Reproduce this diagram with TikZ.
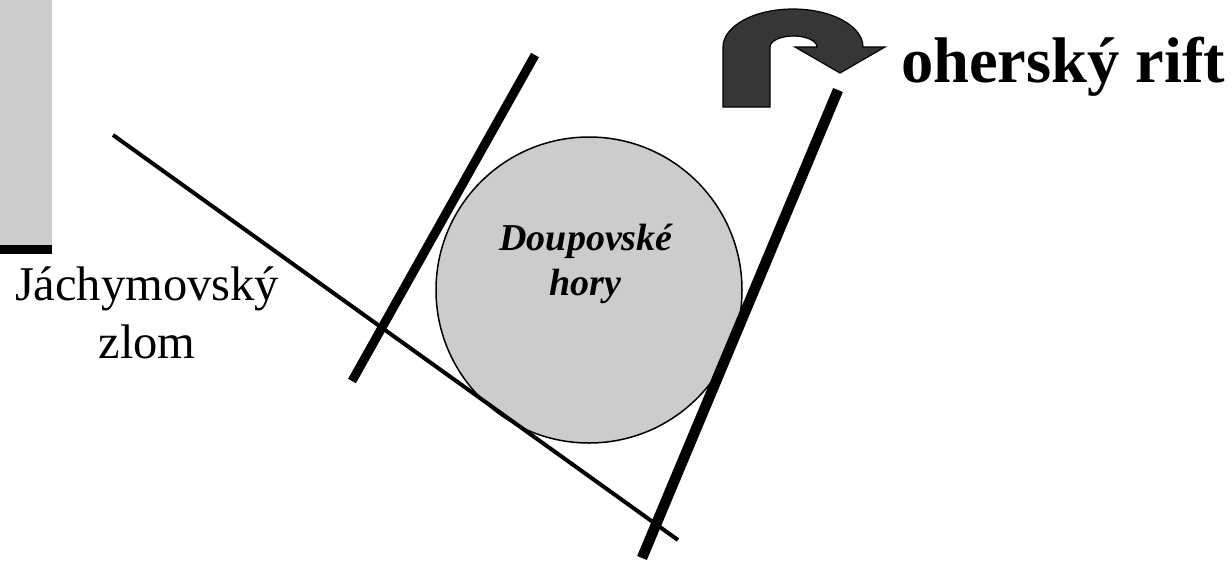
\documentclass[tikz,border=0pt]{standalone}
\usepackage{fontspec}
\setmainfont{Liberation Serif}
\definecolor{panelgray}{HTML}{CCCCCC}
\definecolor{arrowgray}{HTML}{363636}
\begin{document}
\begin{tikzpicture}[x=1pt,y=-1pt,
  thinfault/.style={line width=4pt},
  thickfault/.style={line width=9pt},
  thickerfault/.style={line width=10.5pt},
  lbl/.style={inner sep=0pt,outer sep=0pt}]
\useasboundingbox (0,0) rectangle (1232,560);
% left bar
\fill[panelgray] (0,0) rectangle (52,245);
\fill[black] (0,245) rectangle (52,254);
% circle
\node[circle,draw=black,line width=1.5pt,fill=panelgray,minimum size=306pt,inner sep=0pt] (dh) at (589,290) {};
% faults
\coordinate (j1) at (113,135);
\coordinate (j2) at (678,540);
\draw[thinfault] (j1) -- (j2);
\coordinate (a1) at (352,381);
\coordinate (a2) at (535,55);
\draw[thickfault] (a1) -- (a2);
\coordinate (b1) at (642,558);
\coordinate (b2) at (838,90);
\draw[thickerfault] (b1) -- (b2);
% curved arrow
\draw[fill=arrowgray,draw=black,line width=1.2pt,line join=miter]
  (723,107) -- (723,47)
  arc[start angle=180,end angle=0,x radius=70pt,y radius=38pt]
  -- (885,47) -- (840,73) -- (795,47) -- (817,47)
  arc[start angle=0,end angle=180,x radius=23.5pt,y radius=11pt]
  -- (770,107) -- cycle;
% labels
\node[lbl,anchor=base west,font=\fontsize{64.5}{75}\selectfont\bfseries] (rift) at (901,82) {oherský rift};
\node[lbl,anchor=base west,font=\fontsize{48.5}{56}\selectfont] (jach) at (15,300) {Jáchymovský};
\node[lbl,anchor=base,font=\fontsize{48.5}{56}\selectfont] (zlom) at (147,358) {zlom};
\node[lbl,anchor=base,font=\fontsize{38}{45}\selectfont\bfseries\itshape] (doup) at (586,250) {Doupovské};
\node[lbl,anchor=base,font=\fontsize{38}{45}\selectfont\bfseries\itshape] (hory) at (585,295) {hory};
\end{tikzpicture}
\end{document}
